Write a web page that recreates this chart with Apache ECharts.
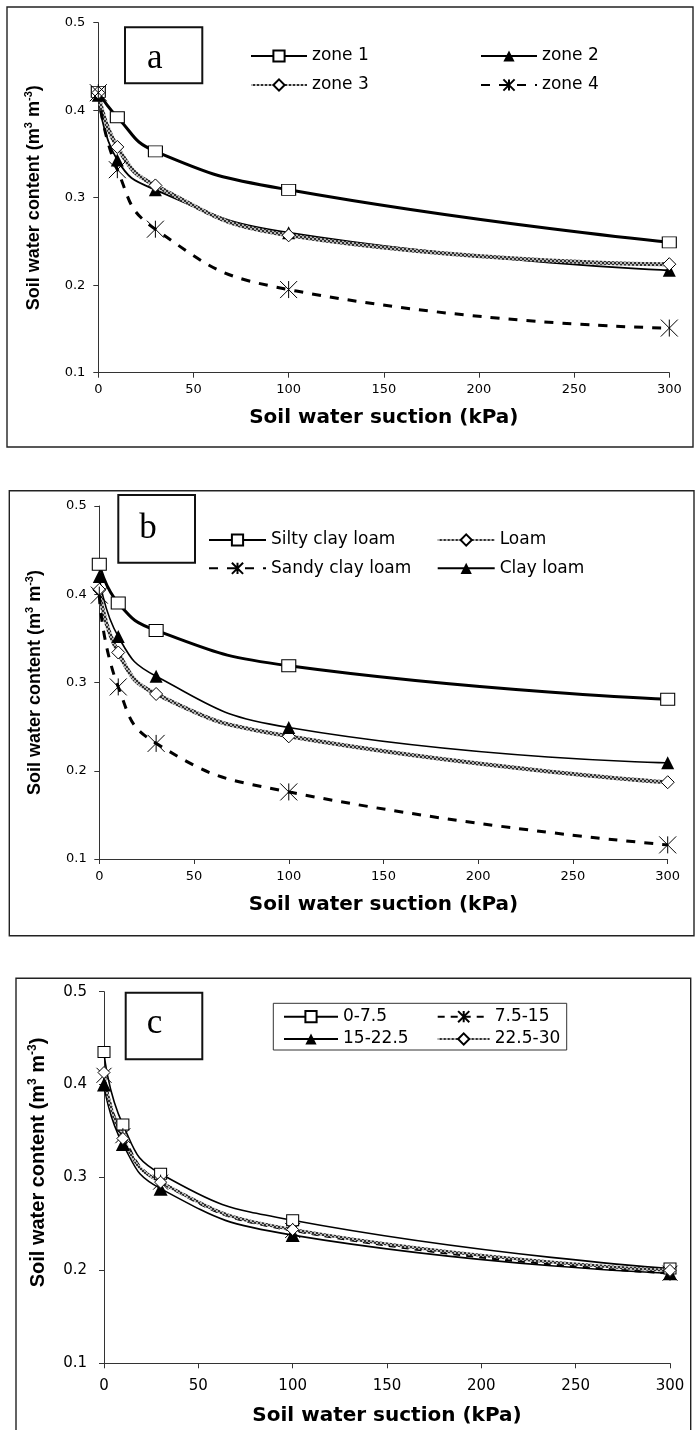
<!DOCTYPE html>
<html>
<head>
<meta charset="utf-8">
<script src="https://cdn.jsdelivr.net/npm/echarts@6/dist/echarts.min.js"></script>
<style>
  html, body { margin: 0; padding: 0; background: #fff; }
  #chart { width: 695px; height: 1430px; }
</style>
</head>
<body>
<div id="chart"></div>
<script>
// Soil water retention: water content (m3 m-3) against suction (kPa)
const suction = [0, 10, 30, 100, 300];
const xTicks = [0, 50, 100, 150, 200, 250, 300];
const yTicks = [0.1, 0.2, 0.3, 0.4, 0.5];

// (a) zones
const zone1 = [0.421, 0.392, 0.353, 0.309, 0.249];
const zone2 = [0.417, 0.343, 0.309, 0.260, 0.217];
const zone3 = [0.420, 0.358, 0.314, 0.257, 0.224];
const zone4 = [0.420, 0.332, 0.264, 0.195, 0.151];

// (b) texture classes
const siltyClayLoam = [0.434, 0.390, 0.359, 0.319, 0.281];
const loam          = [0.405, 0.334, 0.287, 0.239, 0.187];
const sandyClayLoam = [0.399, 0.295, 0.231, 0.176, 0.116];
const clayLoam      = [0.420, 0.352, 0.307, 0.249, 0.209];

// (c) sampling depths (cm)
const depth0   = [0.435, 0.357, 0.304, 0.254, 0.202];
const depth75  = [0.410, 0.345, 0.295, 0.243, 0.197];
const depth15  = [0.400, 0.336, 0.288, 0.238, 0.197];
const depth225 = [0.413, 0.342, 0.295, 0.244, 0.200];

const panelLetters = ['a', 'b', 'c'];
const xTitle = 'Soil water suction (kPa)';
const yTitle = 'Soil water content (m{sup|3} m{sup|-3})';

const SANS = '"DejaVu Sans", sans-serif';
const ARIAL = '"Liberation Sans", Arial, sans-serif';
const SERIF = '"Liberation Serif", "Times New Roman", serif';

// textured grey stroke for the third curve of each panel
const tile = document.createElement('canvas');
tile.width = 4; tile.height = 4;
(function () {
  const c = tile.getContext('2d');
  c.fillStyle = '#b4b4b4'; c.fillRect(0, 0, 4, 4);
  c.fillStyle = '#2e2e2e';
  c.fillRect(0, 0, 2, 2); c.fillRect(2, 2, 2, 2);
})();
const texture = { image: tile, repeat: 'repeat' };

const STAR = 'path://M0 0L10 10M10 0L0 10M5 0L5 10';

// layout of each panel
const panels = [
  { grid: { left: 98.3, top: 22.7, width: 571, height: 350 },
    frame: [7, 7, 686, 440],
    tag: [125, 27.3, 77.3, 56], tagText: [154.7, 58.5],
    tickFont: 13, xMargin: 10, yMargin: 13, xGap: 35, yGap: 53, yFont: 18, yPad: 0,
    legend: [{ left: 250, top: 47, gap: 11, w: 56 }, { left: 480, top: 47, gap: 11, w: 56 }],
    w: { square: 3, triangle: 1.8, diamond: 4, star: 3 }, dash: [9, 9],
    size: { square: [14, 11], triangle: 13, diamond: 13, star: 17 } },
  { grid: { left: 99.3, top: 506, width: 568.4, height: 353 },
    frame: [9.3, 490.7, 684.7, 445],
    tag: [118.3, 495, 76.7, 67.7], tagText: [148, 529],
    tickFont: 13, xMargin: 11, yMargin: 12.6, xGap: 36, yGap: 53, yFont: 18, yPad: 0,
    legend: [{ left: 208, top: 531, gap: 10.3, w: 57 }, { left: 436.7, top: 531, gap: 10.3, w: 57 }],
    w: { square: 3, triangle: 1.6, diamond: 4, star: 3 }, dash: [9, 9],
    size: { square: [14, 12], triangle: 13, diamond: 13, star: 17 } },
  { grid: { left: 104, top: 991.7, width: 566, height: 371.6 },
    frame: [16, 978.3, 674.7, 470],
    tag: [125.7, 992.7, 76.6, 66.6], tagText: [154.5, 1024.3],
    tickFont: 15, xMargin: 15, yMargin: 17, xGap: 42, yGap: 55, yFont: 20, yPad: 30,
    legendBox: [273.3, 1003.3, 293.4, 46.7],
    legend: [{ left: 283, top: 1007.7, gap: 4.3, w: 54 }, { left: 436.7, top: 1007.7, gap: 4.3, w: 52 }],
    w: { square: 1.6, triangle: 1.6, diamond: 3, star: 2.5 }, dash: [7, 6],
    size: { square: [12, 11], triangle: 14, diamond: 12, star: 15 } }
];

// series per panel: [name, values, marker kind]
const panelSeries = [
  [['zone 1', zone1, 'square'], ['zone 2', zone2, 'triangle'], ['zone 3', zone3, 'diamond'], ['zone 4', zone4, 'star']],
  [['Silty clay loam', siltyClayLoam, 'square'], ['Loam', loam, 'diamond'], ['Sandy clay loam', sandyClayLoam, 'star'], ['Clay loam', clayLoam, 'triangle']],
  [['0-7.5', depth0, 'square'], ['7.5-15', depth75, 'star'], ['15-22.5', depth15, 'triangle'], ['22.5-30', depth225, 'diamond']]
];
const legendColumns = [
  [['zone 1', 'zone 3'], ['zone 2', 'zone 4']],
  [['Silty clay loam', 'Sandy clay loam'], ['Loam', 'Clay loam']],
  [['0-7.5', '15-22.5'], ['7.5-15', '22.5-30']]
];

function seriesFor(p, idx, name, values, kind) {
  const s = {
    name, type: 'line', xAxisIndex: idx, yAxisIndex: idx,
    data: suction.map((x, i) => [x, values[i]]),
    smooth: 0.5, showAllSymbol: true,
    symbolKeepAspect: true, silent: true,
    symbolSize: p.size[kind]
  };
  if (kind === 'square') {
    s.symbol = 'rect';
    s.itemStyle = { color: '#fff', borderColor: '#000', borderWidth: 1 };
    s.lineStyle = { color: '#000', width: p.w.square };
  } else if (kind === 'triangle') {
    s.symbol = 'triangle';
    s.itemStyle = { color: '#000', borderColor: '#000', borderWidth: 0 };
    s.lineStyle = { color: '#000', width: p.w.triangle };
  } else if (kind === 'diamond') {
    s.symbol = 'diamond';
    s.itemStyle = { color: '#fff', borderColor: '#000', borderWidth: 1 };
    s.lineStyle = { color: texture, width: p.w.diamond };
  } else {
    s.symbol = STAR;
    s.itemStyle = { color: '#000', borderColor: '#000', borderWidth: 1 };
    s.lineStyle = { color: '#000', width: p.w.star, type: p.dash };
  }
  return s;
}

const option = {
  animation: false,
  backgroundColor: '#fff',
  grid: [], xAxis: [], yAxis: [], series: [], legend: [], graphic: []
};

panels.forEach((p, idx) => {
  option.grid.push(Object.assign({ containLabel: false }, p.grid));
  option.xAxis.push({
    type: 'value', gridIndex: idx,
    min: xTicks[0], max: xTicks[xTicks.length - 1], interval: xTicks[1] - xTicks[0],
    name: xTitle, nameLocation: 'middle', nameGap: p.xGap,
    nameTextStyle: { fontFamily: SANS, fontWeight: 'bold', fontSize: 20, color: '#000' },
    axisLine: { show: true, onZero: false, lineStyle: { color: '#333', width: 1 } },
    axisTick: { show: true, length: 5, lineStyle: { color: '#333' } },
    axisLabel: { fontFamily: SANS, fontSize: p.tickFont, color: '#000', margin: p.xMargin },
    splitLine: { show: false }
  });
  option.yAxis.push({
    type: 'value', gridIndex: idx,
    min: yTicks[0], max: yTicks[yTicks.length - 1], interval: 0.1,
    name: yTitle, nameLocation: 'middle', nameGap: p.yGap,
    nameTextStyle: {
      fontFamily: ARIAL, fontWeight: 'bold', fontSize: p.yFont, color: '#000', lineHeight: 22,
      padding: [0, 0, 0, p.yPad],
      rich: { sup: { fontFamily: ARIAL, fontWeight: 'bold', fontSize: Math.round(p.yFont * 0.62), color: '#000', verticalAlign: 'top', lineHeight: 14 } }
    },
    axisLine: { show: true, onZero: false, lineStyle: { color: '#333', width: 1 } },
    axisTick: { show: true, length: 5, lineStyle: { color: '#333' } },
    axisLabel: { fontFamily: SANS, fontSize: p.tickFont, color: '#000', margin: p.yMargin,
                 formatter: v => v.toFixed(1) },
    splitLine: { show: false }
  });
  panelSeries[idx].forEach(([name, values, kind]) => {
    option.series.push(seriesFor(p, idx, name, values, kind));
  });
  p.legend.forEach((L, c) => {
    option.legend.push({
      data: legendColumns[idx][c], orient: 'vertical', left: L.left, top: L.top,
      itemGap: L.gap, itemWidth: L.w, itemHeight: 14, padding: 0, selectedMode: false,
      textStyle: { fontFamily: SANS, fontSize: 17, color: '#000', lineHeight: 18 }
    });
  });
  // panel frame
  option.graphic.push({
    type: 'rect', silent: true,
    shape: { x: p.frame[0], y: p.frame[1], width: p.frame[2], height: p.frame[3] },
    style: { fill: 'none', stroke: '#222', lineWidth: 1.4 }
  });
  // panel letter box
  option.graphic.push({
    type: 'rect', silent: true,
    shape: { x: p.tag[0], y: p.tag[1], width: p.tag[2], height: p.tag[3] },
    style: { fill: '#fff', stroke: '#111', lineWidth: 2 }
  });
  option.graphic.push({
    type: 'text', silent: true, x: p.tagText[0], y: p.tagText[1],
    style: { text: panelLetters[idx], font: '35px ' + SERIF, fill: '#000', align: 'center', verticalAlign: 'middle' }
  });
  if (p.legendBox) {
    option.graphic.push({
      type: 'rect', silent: true, z: -1,
      shape: { x: p.legendBox[0], y: p.legendBox[1], width: p.legendBox[2], height: p.legendBox[3] },
      style: { fill: '#fff', stroke: '#333', lineWidth: 1 }
    });
  }
});

const chart = echarts.init(document.getElementById('chart'), null, { renderer: 'canvas' });
chart.setOption(option);
</script>
</body>
</html>
